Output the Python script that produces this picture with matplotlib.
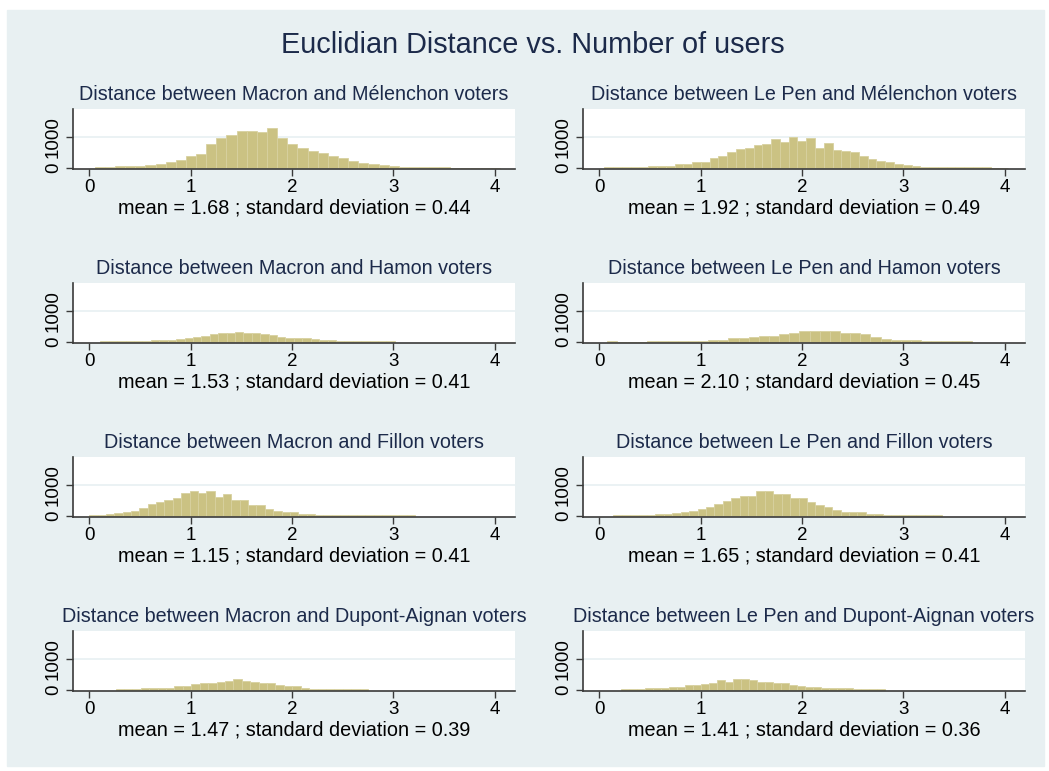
import numpy as np
import matplotlib
matplotlib.use('Agg')
import matplotlib.pyplot as plt
from matplotlib.patches import Rectangle

plt.rcParams['font.family'] = ['Liberation Sans', 'DejaVu Sans']

# data (bin start, bin width, counts per bin)
titles = [
    'Distance between Macron and Mélenchon voters',
    'Distance between Le Pen and Mélenchon voters',
    'Distance between Macron and Hamon voters',
    'Distance between Le Pen and Hamon voters',
    'Distance between Macron and Fillon voters',
    'Distance between Le Pen and Fillon voters',
    'Distance between Macron and Dupont-Aignan voters',
    'Distance between Le Pen and Dupont-Aignan voters',
]
means = [1.68, 1.92, 1.53, 2.10, 1.15, 1.65, 1.47, 1.41]
sds = [0.44, 0.49, 0.41, 0.45, 0.41, 0.41, 0.39, 0.36]
bin_start = [0.054, 0.05, 0.11, 0.075, 0.0, 0.14, 0.26, 0.21]
bin_width = [0.1, 0.0866, 0.083, 0.1, 0.0825, 0.083, 0.083, 0.079]

counts_macron_melenchon = [20, 35, 55, 55, 55, 100, 120, 195, 240, 370,
                           455, 770, 955, 1040, 1185, 1185, 1130, 1280, 955, 770,
                           640, 555, 470, 390, 305, 220, 160, 115, 85, 50,
                           35, 30, 20, 15, 15, 10, 10, 10, 10, 10]
counts_lepen_melenchon = [15, 15, 20, 25, 30, 45, 50, 60, 110, 110, 190, 200,
                          325, 380, 510, 600, 640, 730, 770, 925, 840, 1000, 860, 970, 640, 780,
                          580, 540, 500, 380, 290, 230, 180, 120, 80, 50, 40, 30, 30, 25,
                          20, 15, 15, 15, 10, 10]
counts_macron_hamon = [30, 30, 35, 35, 35, 40, 60, 60, 60,
                       95, 140, 150, 190, 245, 280, 300, 330, 300, 280, 250,
                       225, 170, 140, 120, 110, 100, 55, 50,
                       35, 30, 30, 25, 25, 25, 25]
counts_lepen_hamon = [40, 0, 0, 0, 30, 35, 35, 35, 35, 35,
                      60, 70, 115, 125, 165, 190, 180, 250, 300, 345,
                      335, 335, 345, 270, 270, 265, 160, 105, 65, 60,
                      50, 35, 35, 30, 30, 25]
counts_macron_fillon = [15, 20, 55, 85, 110, 160, 250, 375, 430, 515,
                        570, 730, 785, 730, 785, 615, 690, 515, 505, 345,
                        335, 215, 160, 140, 130, 75, 45, 35, 35, 30,
                        30, 30, 30, 25, 25, 25, 40, 20, 15]
counts_lepen_fillon = [25, 30, 35, 35, 35, 50, 60, 100, 115, 160,
                       205, 290, 375, 460, 560, 645, 645, 785, 785, 700,
                       700, 570, 570, 430, 345, 270, 180, 140, 130, 110,
                       75, 45, 35, 35, 30, 30, 25, 25, 20]
counts_macron_dupont = [40, 40, 40, 45, 45, 45, 75, 120, 140, 180,
                        215, 220, 250, 290, 345, 300, 250, 215, 215, 160,
                        130, 110, 55, 40, 40, 40, 40, 35, 35, 30]
counts_lepen_dupont = [40, 40, 40, 45, 45, 45, 80, 90, 150, 170,
                       200, 225, 320, 255, 350, 350, 310, 265, 265, 225,
                       225, 150, 130, 95, 95, 50, 50, 45, 45, 35,
                       35, 30, 30]

all_counts = [counts_macron_melenchon, counts_lepen_melenchon,
              counts_macron_hamon, counts_lepen_hamon,
              counts_macron_fillon, counts_lepen_fillon,
              counts_macron_dupont, counts_lepen_dupont]

x_ticks = [0, 1, 2, 3, 4]
y_ticks = [0, 1000]

# colours (Stata s2color look)
bg_col = '#E8F0F2'
bar_col = '#CBC283'
bar_edge = '#D8D1A0'
title_col = '#1C2A4A'
axis_col = '#3A3A3A'

W, H = 1049, 771
fig = plt.figure(figsize=(W / 100, H / 100), dpi=100)
fig.patch.set_facecolor('white')
fig.patches.append(Rectangle((7 / W, 1 - 766 / H), (1044 - 7) / W, (766 - 10) / H,
                             transform=fig.transFigure, color=bg_col, zorder=-5))

fig.text(533 / W, 1 - 45 / H, 'Euclidian Distance vs. Number of users',
         ha='center', va='center', fontsize=20.8, color=title_col)

col_left = [73, 583]
row_top = [109, 283, 457, 631]
ax_w, ax_h = 442, 60

px = 0.72  # points per pixel at dpi 100

for i in range(8):
    r, c = divmod(i, 2)
    left = col_left[c]
    top = row_top[r]
    ax = fig.add_axes([left / W, 1 - (top + ax_h) / H, ax_w / W, ax_h / H])
    ax.set_facecolor('white')

    counts = all_counts[i]
    edges = bin_start[i] + bin_width[i] * np.arange(len(counts))
    ax.bar(edges, counts, width=bin_width[i], align='edge',
           color=bar_col, edgecolor=bar_edge, linewidth=0.6, zorder=2)

    # axis line sits just under zero so the thin tails stay visible
    ax.set_xlim(-0.16, 4.2)
    ax.set_ylim(-35, 1880)
    ax.axhline(1000, color=bg_col, lw=1.2, zorder=1)

    ax.set_xticks(x_ticks)
    ax.set_yticks(y_ticks)
    ax.set_yticklabels([str(v) for v in y_ticks], rotation=90, va='center')
    ax.tick_params(axis='both', length=5, width=1, color=axis_col,
                   labelsize=13.5, labelcolor='black')
    ax.tick_params(axis='x', pad=2)
    ax.tick_params(axis='y', pad=3)

    for s in ['top', 'right']:
        ax.spines[s].set_visible(False)
    for s in ['left', 'bottom']:
        ax.spines[s].set_color(axis_col)
        ax.spines[s].set_linewidth(1.2)

    # panel title and summary text
    ax.annotate(titles[i], xy=(0.5, 1), xycoords='axes fraction',
                xytext=(0, 14 * px), textcoords='offset points',
                ha='center', va='center', fontsize=14.2, color=title_col)
    ax.annotate('mean = %.2f ; standard deviation = %.2f' % (means[i], sds[i]),
                xy=(0.5, 0), xycoords='axes fraction',
                xytext=(0, -39 * px), textcoords='offset points',
                ha='center', va='center', fontsize=14.3, color='black')

fig.savefig('out.png', dpi=100, facecolor=fig.get_facecolor())
